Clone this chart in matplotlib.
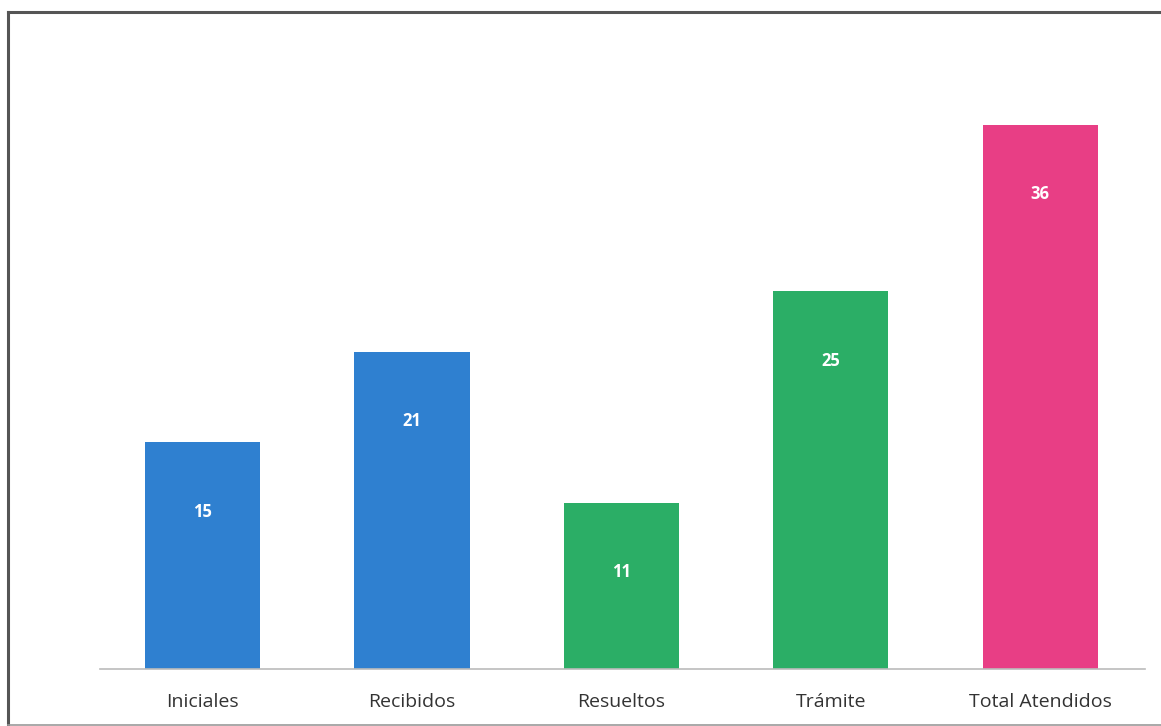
import matplotlib
matplotlib.use("Agg")
import matplotlib.pyplot as plt
from matplotlib.lines import Line2D

categories = ["Iniciales", "Recibidos", "Resueltos", "Trámite", "Total Atendidos"]
values = [15, 21, 11, 25, 36]
colors = ["#2F80D0", "#2F80D0", "#2BAE66", "#2BAE66", "#E83E85"]

plt.rcParams['font.family'] = ['Open Sans', 'DejaVu Sans']

W, H = 1161, 726
fig = plt.figure(figsize=(W / 100, H / 100), dpi=100)
fig.patch.set_facecolor("white")

ax = fig.add_axes([100 / W, (H - 669) / H, 1045 / W, 0.8326])
x = list(range(len(categories)))
bars = ax.bar(x, values, width=0.55, color=colors, zorder=2)
ax.set_xlim(-0.49, 4.5)
ax.set_ylim(0, 40)

for b, v in zip(bars, values):
    ax.annotate(str(v), (b.get_x() + b.get_width() / 2, v), xytext=(0, -50),
                textcoords="offset points", ha="center", va="center",
                color="white", fontsize=12, fontweight="bold")

ax.set_xticks(x)
ax.set_xticklabels(categories, fontsize=14, color="#333333")
ax.tick_params(axis="x", length=0, pad=17)
ax.set_yticks([])
for s in ["top", "right", "left"]:
    ax.spines[s].set_visible(False)
ax.spines["bottom"].set_color("#BBBBBB")
ax.spines["bottom"].set_linewidth(1.2)
ax.set_facecolor("none")

# scanned frame: left, top and faint bottom edges
fig.lines.append(Line2D([8 / W, 8 / W], [(H - 12) / H, 0], transform=fig.transFigure,
                        color="#555555", linewidth=2.2))
fig.lines.append(Line2D([8 / W, 1.0], [(H - 12) / H, (H - 12) / H], transform=fig.transFigure,
                        color="#555555", linewidth=2.2))
fig.lines.append(Line2D([8 / W, 1.0], [1.5 / H, 1.5 / H], transform=fig.transFigure,
                        color="#999999", linewidth=1.2))

fig.savefig("out.png", dpi=100)
